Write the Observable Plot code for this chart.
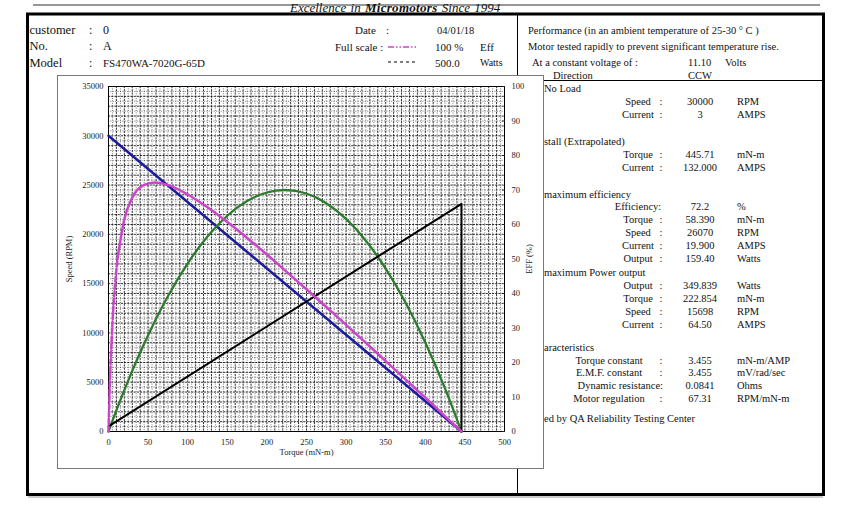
<!DOCTYPE html>
<html><head><meta charset="utf-8">
<script src="https://cdn.jsdelivr.net/npm/d3@7"></script>
<script src="https://cdn.jsdelivr.net/npm/@observablehq/plot@0.6"></script>
<style>
html,body{margin:0;padding:0;background:#fff;}
#page{position:relative;width:850px;height:519px;overflow:hidden;background:#fff;font-family:"Liberation Serif","Times New Roman",serif;}
#bg{position:absolute;left:0;top:0;}
#panel{position:absolute;left:57px;top:75px;width:487px;height:394px;box-sizing:border-box;border:1px solid #7a7a7a;background:#fff;}
#chart{position:absolute;left:57px;top:75px;}
</style></head>
<body><div id="page"><svg id="bg" width="850" height="519"></svg><div id="panel"></div><div id="chart"></div></div>
<script>
// ---------- data ----------
const speedTorque = [0, 445.71];
const speedRPM = [30000, 0];
const currentTorque = [0, 445.71, 445.71];
const currentAmps = [3, 132, 0];
const curveTorque = [0, 0.5, 1, 2, 3, 5, 8, 12, 20, 30, 45, 58.39, 75, 100, 125, 150, 175, 200, 222.85, 250, 275, 300, 325, 350, 375, 400, 425, 445.71];
const effPct = [0, 4.5, 8.6, 15.8, 21.8, 31.5, 41.8, 51.1, 61.5, 67.8, 71.5, 72.2, 71.5, 68.7, 65.0, 60.7, 56.1, 51.3, 46.7, 41.2, 36.1, 30.9, 25.7, 20.4, 15.1, 9.8, 4.4, 0];
const powerW = [0, 1.6, 3.1, 6.3, 9.4, 15.5, 24.7, 36.7, 60.0, 87.9, 127.1, 159.4, 196.0, 243.7, 282.6, 312.7, 333.9, 346.4, 350.0, 344.9, 330.9, 308.1, 276.5, 236.1, 186.9, 128.9, 62.1, 0];
const effDashedUpTo = 12;
const fullScaleRPM = 35000, fullScaleEff = 100, fullScaleWatts = 500, fullScaleAmps = 200;
const xTicks = [0, 50, 100, 150, 200, 250, 300, 350, 400, 450, 500];
const speedTicks = [0, 5000, 10000, 15000, 20000, 25000, 30000, 35000];
const effTicks = [0, 10, 20, 30, 40, 50, 60, 70, 80, 90, 100];

const headerLabels = ["customer", "No.", "Model"];
const headerValues = ["0", "A", "FS470WA-7020G-65D"];

const infoHeads = ["No Load", "stall (Extrapolated)", "maximum efficiency", "maximum Power output", "aracteristics", "ed by QA Reliability Testing  Center"];
const infoRows = [
  ["Speed", "30000", "RPM"], ["Current", "3", "AMPS"],
  ["Torque", "445.71", "mN-m"], ["Current", "132.000", "AMPS"],
  ["Efficiency:", "72.2", "%"], ["Torque", "58.390", "mN-m"], ["Speed", "26070", "RPM"], ["Current", "19.900", "AMPS"], ["Output", "159.40", "Watts"],
  ["Output", "349.839", "Watts"], ["Torque", "222.854", "mN-m"], ["Speed", "15698", "RPM"], ["Current", "64.50", "AMPS"]
];
const charRows = [
  ["Torque constant", "3.455", "mN-m/AMP"], ["E.M.F. constant", "3.455", "mV/rad/sec"],
  ["Dynamic resistance:", "0.0841", "Ohms"], ["Motor regulation", "67.31", "RPM/mN-m"]
];

// ---------- background sheet ----------
const bg = d3.select("#bg");
const FONT = "Liberation Serif, Times New Roman, serif";
function txt(x, y, s, size, opts = {}) {
  const t = bg.append("text").attr("x", x).attr("y", y).attr("dominant-baseline", "central")
    .attr("font-family", FONT).attr("font-size", size).attr("fill", opts.fill || "#111")
    .attr("text-anchor", opts.anchor || "start").text(s);
  if (opts.italic) t.attr("font-style", "italic");
  if (opts.bold) t.attr("font-weight", "bold");
  return t;
}
function line(x1, y1, x2, y2, w, col, dash) {
  const l = bg.append("line").attr("x1", x1).attr("y1", y1).attr("x2", x2).attr("y2", y2)
    .attr("stroke", col || "#000").attr("stroke-width", w);
  if (dash) l.attr("stroke-dasharray", dash);
}
line(33, 5, 820, 5, 1.2, "#333");
const ex = bg.append("text").attr("x", 290).attr("y", 7).attr("dominant-baseline", "central")
  .attr("font-family", FONT).attr("font-size", 13).attr("font-style", "italic").attr("fill", "#111")
  .attr("word-spacing", 1);
ex.append("tspan").text("Excellence in ");
ex.append("tspan").attr("font-weight", "bold").attr("letter-spacing", 0.3).text("Micromotors");
ex.append("tspan").text(" Since 1994");

bg.append("rect").attr("x", 27.5).attr("y", 14).attr("width", 796).attr("height", 480.5)
  .attr("fill", "none").attr("stroke", "#000").attr("stroke-width", 3);
line(28, 497, 823, 497, 1, "#999");
line(517.5, 13, 517.5, 494, 1);
line(518, 80.5, 823, 80.5, 1);

headerLabels.forEach((s, i) => {
  const y = 30 + i * 16.3;
  txt(29.5, y, s, 12.5);
  txt(89, y, ":", 12);
  txt(103, y, headerValues[i], i === 2 ? 11 : 12);
});
txt(355, 30, "Date", 11); txt(386, 30, ":", 11); txt(437, 30, "04/01/18", 10.5);
txt(335, 46.5, "Full scale :", 11);
line(388, 47, 416, 47, 1.5, "#cc44cc", "6,2,1.5,2,1.5,2");
txt(435, 46.5, "100  %", 11); txt(480, 46.5, "Eff", 11);
line(388, 62, 416, 62, 1, "#000", "3,3");
txt(435, 62.5, "500.0", 11); txt(480, 62.5, "Watts", 10);
txt(435, 78, "200.0", 11); txt(480, 78, "A", 10);

txt(528, 30, "Performance (in an ambient temperature of 25-30 ° C )", 10.5);
txt(528, 46.5, "Motor tested rapidly to prevent significant temperature rise.", 10.5);
txt(532, 62, "At a constant voltage of :", 10.5); txt(688, 62, "11.10", 10.5); txt(725, 62, "Volts", 10.5);
txt(553, 75.5, "Direction", 10.5); txt(688, 75.5, "CCW", 10.5);

const headY = [88, 141, 194, 272, 347.5, 418];
infoHeads.forEach((s, i) => txt(544, headY[i], s, 10.5));
const rowY = [101.5, 114.5, 154.5, 167.5, 206.5, 219.5, 232.5, 245.5, 258.5, 285, 298, 311.5, 324.5];
infoRows.forEach((r, i) => {
  txt(638, rowY[i], r[0], 10.5, {anchor: "middle"});
  if (!r[0].endsWith(":")) txt(661, rowY[i], ":", 10.5, {anchor: "middle"});
  txt(700, rowY[i], r[1], 10.5, {anchor: "middle"});
  txt(737, rowY[i], r[2], 10.5);
});
const charY = [360, 372.5, 385, 398];
charRows.forEach((r, i) => {
  if (r[0].endsWith(":")) txt(663, charY[i], r[0], 10.5, {anchor: "end"});
  else { txt(609, charY[i], r[0], 10.5, {anchor: "middle"}); txt(661, charY[i], ":", 10.5, {anchor: "middle"}); }
  txt(700, charY[i], r[1], 10.5, {anchor: "middle"});
  txt(737, charY[i], r[2], 10.5);
});

// ---------- chart ----------
const toY = (v, fs) => v / fs * fullScaleRPM;
const speedRows = speedTorque.map((t, i) => ({t, v: speedRPM[i]}));
const currentRows = currentTorque.map((t, i) => ({t, v: currentAmps[i]}));
const effRows = curveTorque.map((t, i) => ({t, v: effPct[i]}));
const powerRows = curveTorque.map((t, i) => ({t, v: powerW[i]}));
const gridXMajor = d3.range(0, 501, 10), gridXMinor = d3.range(5, 501, 10);
const gridYMajor = d3.range(0, 35001, 1000), gridYMinor = d3.range(500, 35001, 1000);
const major = {stroke: "#000", strokeOpacity: 0.95, strokeWidth: 0.85, strokeDasharray: "2.2,1"};
const minor = {stroke: "#000", strokeOpacity: 0.7, strokeWidth: 0.75, strokeDasharray: "1,1.4"};

const chart = Plot.plot({
  width: 487, height: 394,
  marginLeft: 51, marginRight: 40, marginTop: 11, marginBottom: 38,
  style: {fontFamily: FONT, fontSize: "8.5px", background: "transparent", color: "#222"},
  x: {domain: [0, 500]},
  y: {domain: [0, 35000]},
  marks: [
    Plot.ruleX(gridXMinor, {x: d => d, ...minor}),
    Plot.ruleY(gridYMinor, {y: d => d, ...minor}),
    Plot.ruleX(gridXMajor, {x: d => d, ...major}),
    Plot.ruleY(gridYMajor, {y: d => d, ...major}),
    Plot.frame({stroke: "#000", strokeWidth: 1}),
    Plot.axisX(xTicks, {anchor: "bottom", tickSize: 0, tickPadding: 7, label: "Torque (mN-m)", labelAnchor: "center", labelOffset: 23, labelArrow: "none"}),
    Plot.axisY(speedTicks, {anchor: "left", tickSize: 0, tickPadding: 5, tickFormat: d => String(d), label: "Speed (RPM)", labelAnchor: "center", labelOffset: 43, labelArrow: "none"}),
    Plot.axisY(effTicks.map(v => toY(v, fullScaleEff)), {anchor: "right", tickSize: 3, dx: -3, tickPadding: 7, tickFormat: d => String(Math.round(d / fullScaleRPM * fullScaleEff)), label: "EFF (%)", labelAnchor: "center", labelOffset: 27, labelArrow: "none"}),
    Plot.line(speedRows, {x: "t", y: "v", stroke: "#1c1c9c", strokeWidth: 2.5}),
    Plot.line(powerRows, {x: "t", y: d => toY(d.v, fullScaleWatts), stroke: "#2e7b30", strokeWidth: 2.3, curve: "monotone-x"}),
    Plot.line(currentRows, {x: "t", y: d => toY(d.v, fullScaleAmps), stroke: "#000", strokeWidth: 2}),
    Plot.line(effRows.filter(d => d.t <= effDashedUpTo), {x: "t", y: d => toY(d.v, fullScaleEff), stroke: "#cc44cc", strokeWidth: 2.5, strokeDasharray: "5,2.5", curve: "monotone-x"}),
    Plot.line(effRows.filter(d => d.t >= effDashedUpTo), {x: "t", y: d => toY(d.v, fullScaleEff), stroke: "#cc44cc", strokeWidth: 2.5, curve: "monotone-x"})
  ]
});
document.getElementById("chart").appendChild(chart);
</script>
</body></html>
